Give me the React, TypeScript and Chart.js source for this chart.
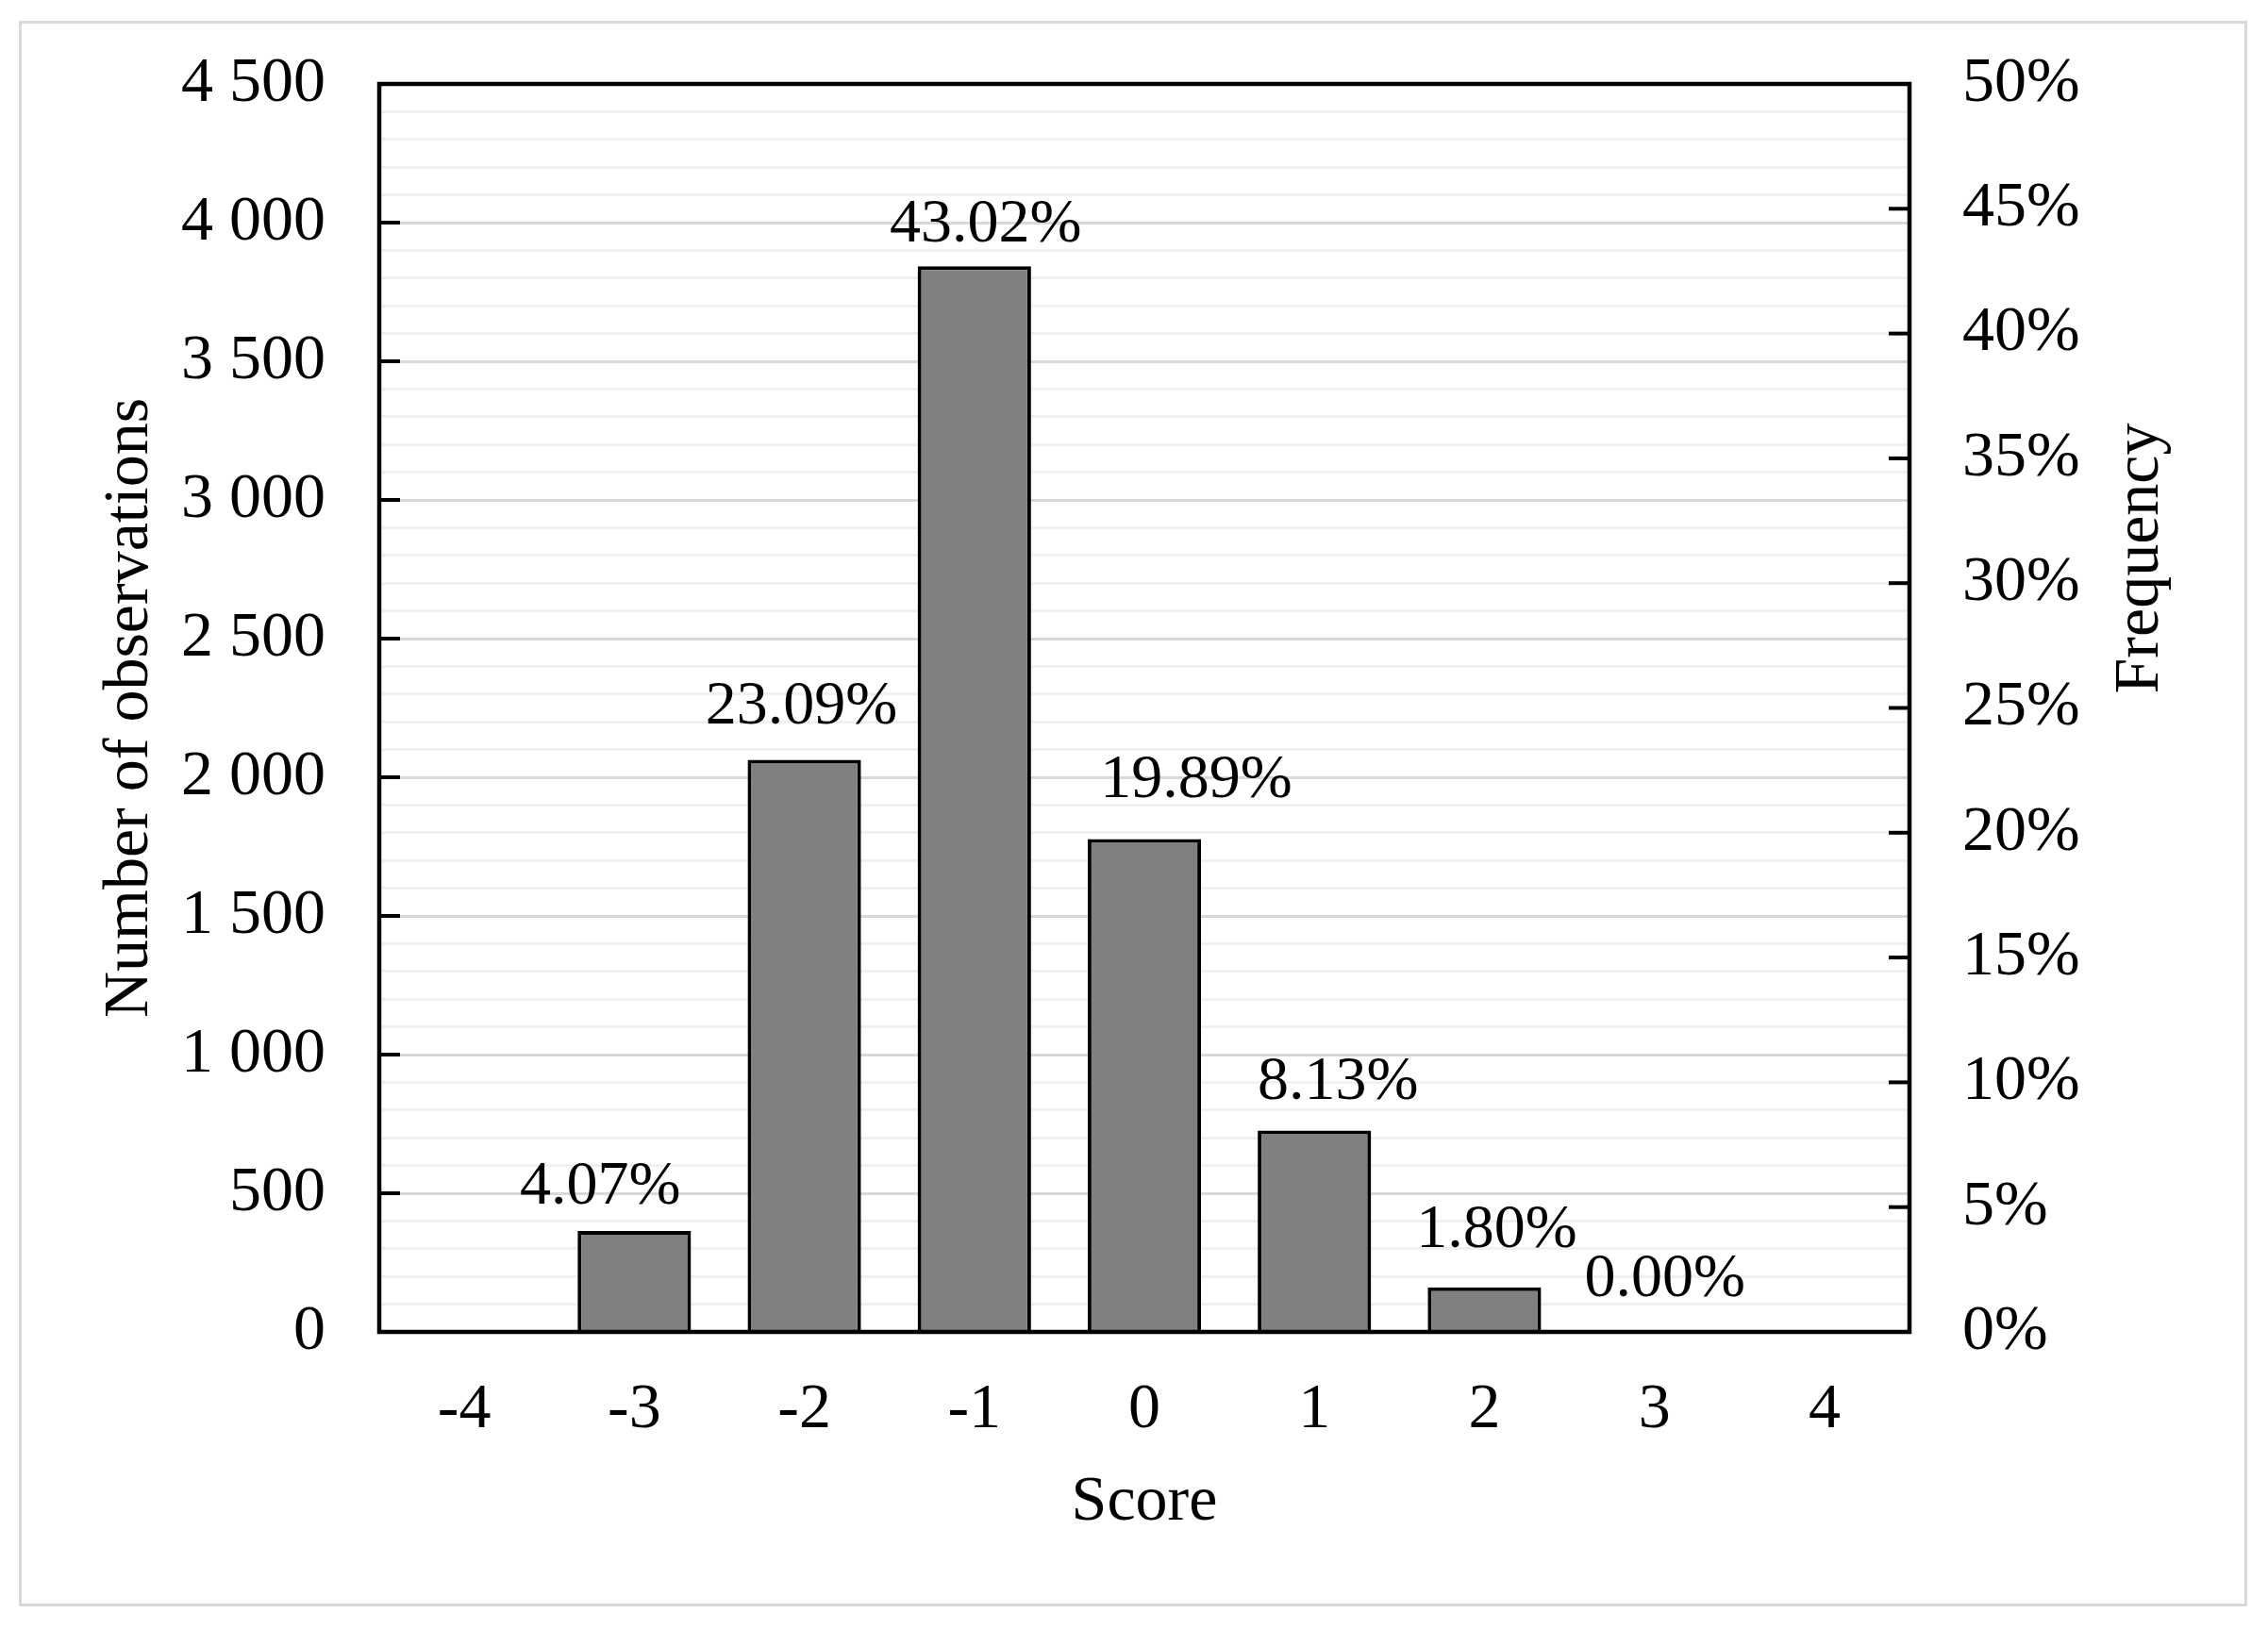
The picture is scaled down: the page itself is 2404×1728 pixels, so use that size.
import React, { useEffect, useRef } from 'react';
import { Chart, registerables } from 'chart.js';

Chart.register(...registerables);

// ---- data ----
const scoreLabels: string[] = ['-4', '-3', '-2', '-1', '0', '1', '2', '3', '4'];
const observationCounts: number[] = [0, 364, 2063, 3843, 1777, 726, 161, 0, 0];
const frequencyPercents: (number | null)[] = [null, 4.07, 23.09, 43.02, 19.89, 8.13, 1.8, 0.0, null];
const countAxisMax = 4500;
const countMajorStep = 500;
const countMinorStep = 100;
const percentAxisMax = 50;
const percentStep = 5;

// ---- style ----
const FONT_FAMILY = '"Liberation Serif", "Times New Roman", Times, serif';
const TICK_FONT = { family: FONT_FAMILY, size: 68 };
const LABEL_FONT_SIZE = 66;
// label placement tweaks (px) relative to each bar's top centre
const labelShiftX: number[] = [0, -36, -3, 12, 55, 25, 13, 11, 0];
const labelGap: number[] = [36, 29, 38, 26, 45, 34, 43, 38, 36];

function formatCount(v: number): string {
  if (v >= 1000) {
    const th = Math.floor(v / 1000);
    const rest = v % 1000;
    return `${th} ${String(rest).padStart(3, '0')}`;
  }
  return String(v);
}

function clearPadding(s: any) {
  s.paddingTop = 0;
  s.paddingBottom = 0;
  s.paddingLeft = 0;
  s.paddingRight = 0;
}

const decorPlugin = {
  id: 'decor',
  beforeDraw(chart: any) {
    const { ctx, width, height } = chart;
    ctx.save();
    ctx.fillStyle = '#ffffff';
    ctx.fillRect(0, 0, width, height);
    ctx.strokeStyle = '#d9d9d9';
    ctx.lineWidth = 3;
    ctx.strokeRect(21.5, 23.5, 2359, 1678);
    ctx.restore();
  },
  afterDraw(chart: any) {
    const { ctx, chartArea: ca, scales } = chart;
    ctx.save();
    ctx.strokeStyle = '#000000';
    ctx.lineWidth = 4;
    ctx.lineCap = 'butt';
    const yS = scales.y;
    yS.ticks.forEach((t: any) => {
      if (t.value % countMajorStep !== 0) return;
      const py = yS.getPixelForValue(t.value);
      ctx.beginPath();
      ctx.moveTo(ca.left, py);
      ctx.lineTo(ca.left + 22, py);
      ctx.stroke();
    });
    const y1 = scales.y1;
    y1.ticks.forEach((t: any) => {
      const py = y1.getPixelForValue(t.value);
      ctx.beginPath();
      ctx.moveTo(ca.right, py);
      ctx.lineTo(ca.right - 22, py);
      ctx.stroke();
    });
    // frame
    ctx.lineWidth = 4.5;
    ctx.lineJoin = 'miter';
    ctx.strokeRect(ca.left, ca.top, ca.right - ca.left, ca.bottom - ca.top);

    // data labels
    const meta = chart.getDatasetMeta(0);
    ctx.fillStyle = '#000000';
    ctx.font = `${LABEL_FONT_SIZE}px ${FONT_FAMILY}`;
    ctx.textAlign = 'center';
    ctx.textBaseline = 'alphabetic';
    meta.data.forEach((bar: any, i: number) => {
      const p = frequencyPercents[i];
      if (p === null || p === undefined) return;
      ctx.fillText(`${p.toFixed(2)}%`, bar.x + labelShiftX[i], bar.y - labelGap[i]);
    });

    // right axis title (reads bottom-to-top)
    ctx.font = `68px ${FONT_FAMILY}`;
    ctx.textBaseline = 'middle';
    ctx.textAlign = 'center';
    ctx.translate(chart.width - 135, 592);
    ctx.rotate(-Math.PI / 2);
    ctx.fillText('Frequency', 0, 0);
    ctx.restore();
  },
};

export default function App() {
  const canvasRef = useRef<HTMLCanvasElement | null>(null);

  useEffect(() => {
    const canvas = canvasRef.current;
    if (!canvas) return;
    const chart = new Chart(canvas, {
      type: 'bar',
      data: {
        labels: scoreLabels,
        datasets: [
          {
            label: 'Number of observations',
            data: observationCounts,
            backgroundColor: '#808080',
            borderColor: '#000000',
            borderWidth: 4,
            categoryPercentage: 1,
            barPercentage: 0.667,
            yAxisID: 'y',
          },
        ],
      },
      options: {
        responsive: false,
        devicePixelRatio: 1,
        animation: false,
        layout: { padding: { top: 89, left: 0, right: 0, bottom: 0 } },
        plugins: {
          legend: { display: false },
          tooltip: { enabled: false },
        },
        scales: {
          x: {
            type: 'category',
            offset: true,
            grid: { display: false, drawTicks: false },
            border: { display: false },
            ticks: { font: TICK_FONT, color: '#000000', padding: 42, maxRotation: 0, autoSkip: false },
            title: {
              display: true,
              text: 'Score',
              font: TICK_FONT,
              color: '#000000',
              padding: { top: 0, bottom: 94 },
            },
            afterFit: (s: any) => {
              s.height = 316;
              clearPadding(s);
            },
          },
          y: {
            position: 'left',
            min: 0,
            max: countAxisMax,
            grid: {
              drawTicks: false,
              lineWidth: 3,
              color: (c: any) =>
                c.tick && c.tick.value % countMajorStep === 0 ? '#d9d9d9' : '#f0f0f0',
            },
            border: { display: false },
            ticks: {
              stepSize: countMinorStep,
              autoSkip: false,
              font: TICK_FONT,
              color: '#000000',
              padding: 57,
              callback: (v: any) => (Number(v) % countMajorStep === 0 ? formatCount(Number(v)) : ''),
            },
            title: {
              display: true,
              text: 'Number of observations',
              font: TICK_FONT,
              color: '#000000',
              padding: { top: 97, bottom: 0 },
            },
            afterFit: (s: any) => {
              s.width = 402;
              clearPadding(s);
            },
          },
          y1: {
            position: 'right',
            min: 0,
            max: percentAxisMax,
            grid: { display: false, drawTicks: false },
            border: { display: false },
            ticks: {
              stepSize: percentStep,
              autoSkip: false,
              font: TICK_FONT,
              color: '#000000',
              padding: 56,
              callback: (v: any) => `${v}%`,
            },
            afterFit: (s: any) => {
              s.width = 380;
              clearPadding(s);
            },
          },
        },
      },
      plugins: [decorPlugin],
    } as any);
    return () => chart.destroy();
  }, []);

  return (
    <div
      style={{
        position: 'fixed',
        left: 0,
        top: 0,
        width: 2404,
        height: 1728,
        background: '#ffffff',
      }}
    >
      <canvas
        ref={canvasRef}
        width={2404}
        height={1728}
        style={{ display: 'block', width: 2404, height: 1728 }}
      />
    </div>
  );
}
